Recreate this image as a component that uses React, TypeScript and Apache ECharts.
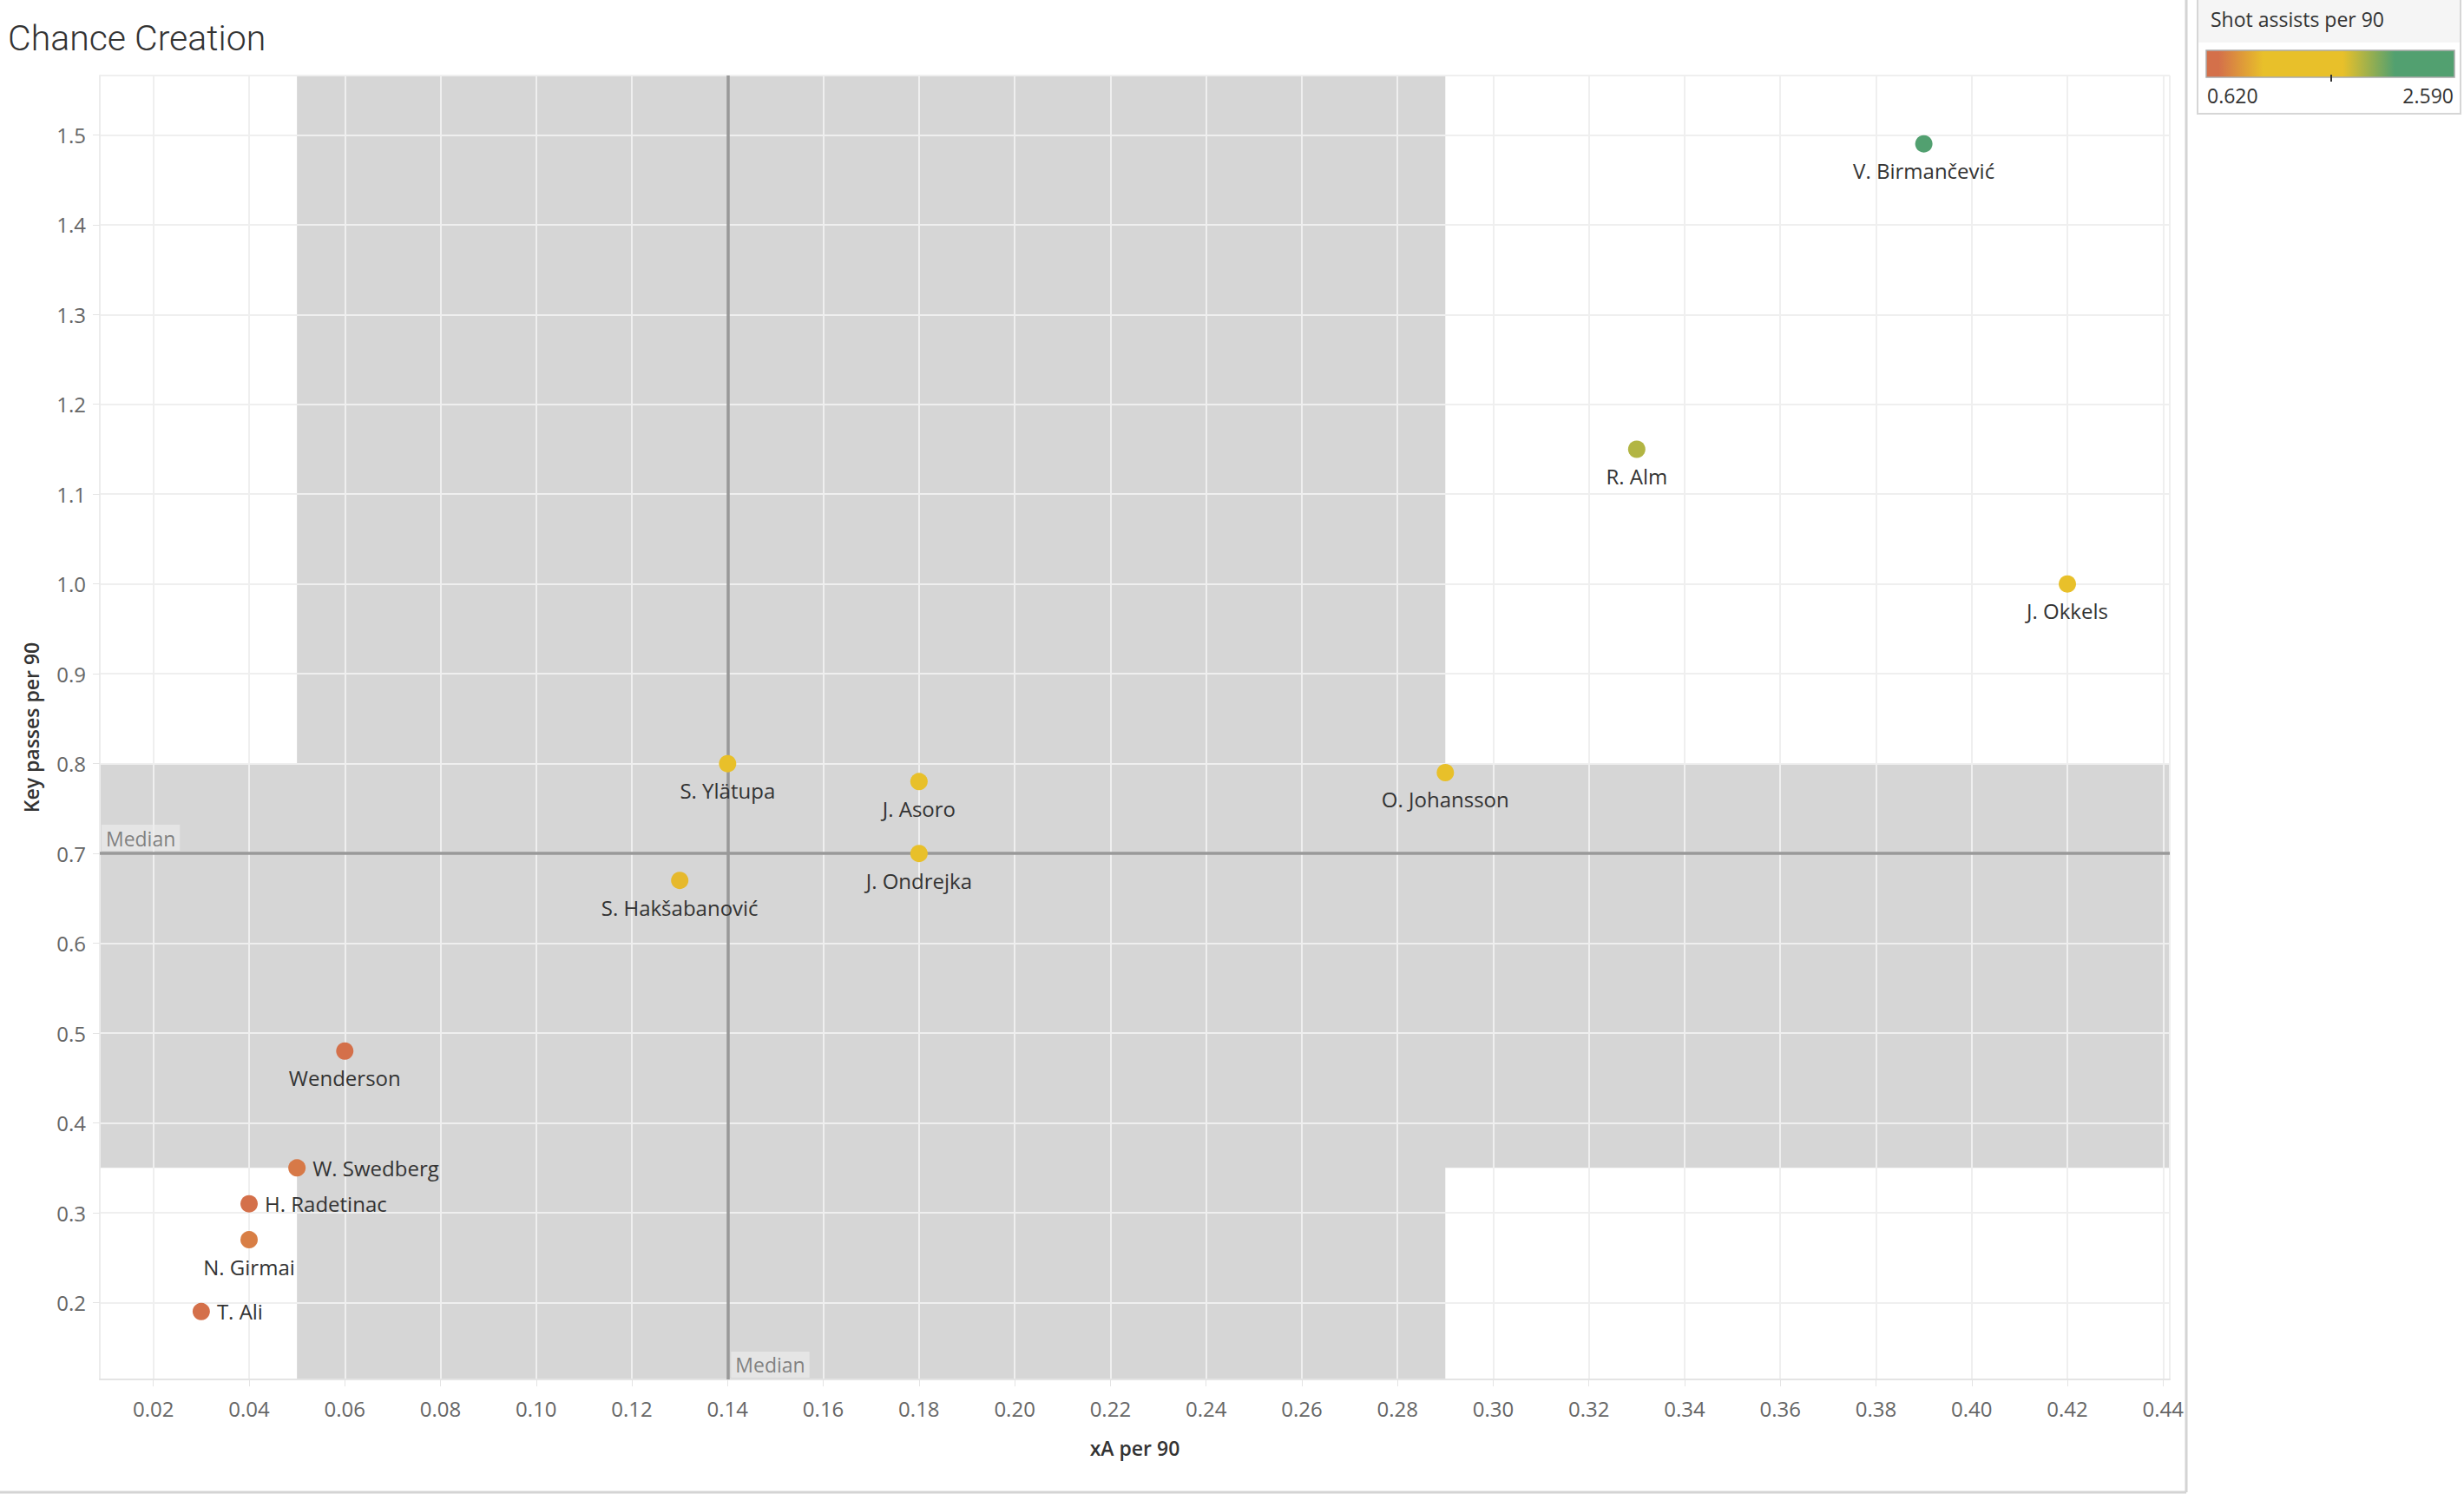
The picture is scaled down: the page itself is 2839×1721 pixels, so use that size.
import React, { useEffect, useRef } from "react";
import * as echarts from "echarts";

// ---- data ----
const players = [
  "V. Birmančević", "R. Alm", "J. Okkels", "O. Johansson", "S. Ylätupa", "J. Asoro",
  "J. Ondrejka", "S. Hakšabanović", "Wenderson", "W. Swedberg", "H. Radetinac", "N. Girmai", "T. Ali",
];
const xAPer90 = [0.39, 0.33, 0.42, 0.29, 0.14, 0.18, 0.18, 0.13, 0.06, 0.05, 0.04, 0.04, 0.03];
const keyPassesPer90 = [1.49, 1.15, 1.0, 0.79, 0.8, 0.78, 0.7, 0.67, 0.48, 0.35, 0.31, 0.27, 0.19];
const shotAssistsPer90 = [2.59, 1.85, 1.55, 1.45, 1.3, 1.4, 1.25, 1.04, 0.66, 0.76, 0.62, 0.78, 0.64];
const rightLabelled = ["W. Swedberg", "H. Radetinac", "T. Ali"];

const xMedian = 0.14;
const yMedian = 0.7;
const xBand = [0.05, 0.29];
const yBand = [0.35, 0.8];
const colorMin = 0.62;
const colorMax = 2.59;
const colorLabels = ["0.620", "2.590"];

const X_MIN = 0.0088, X_MAX = 0.4414, Y_MIN = 0.1145, Y_MAX = 1.566;

const SCALE_STOPS: [number, string][] = [
  [0, "#d4704a"], [0.05, "#d4704a"], [0.23, "#e8c02a"], [0.55, "#e8c02a"], [0.76, "#52a070"], [1, "#52a070"],
];

function hex(c: string) {
  return [1, 3, 5].map((i) => parseInt(c.slice(i, i + 2), 16));
}
function sample(t: number) {
  for (let i = 0; i < SCALE_STOPS.length - 1; i++) {
    const [t0, c0] = SCALE_STOPS[i];
    const [t1, c1] = SCALE_STOPS[i + 1];
    if (t >= t0 && t <= t1) {
      const f = t1 === t0 ? 0 : (t - t0) / (t1 - t0);
      const a = hex(c0), b = hex(c1);
      const m = a.map((v, k) => Math.round(v + (b[k] - v) * f));
      return `rgb(${m[0]},${m[1]},${m[2]})`;
    }
  }
  return SCALE_STOPS[SCALE_STOPS.length - 1][1];
}
const vmColors = Array.from({ length: 41 }, (_, i) => sample(i / 40));

const FONT = "Open Sans";

export default function App() {
  const ref = useRef<HTMLDivElement>(null);
  useEffect(() => {
    document.body.style.margin = "0";
    document.body.style.overflow = "hidden";
    const chart = echarts.init(ref.current!, null, { renderer: "svg" });
    const data = players.map((n, i) => ({
      value: [xAPer90[i], keyPassesPer90[i], shotAssistsPer90[i]],
      name: n,
      label: rightLabelled.includes(n)
        ? { position: "right", distance: 8 }
        : { position: "bottom", distance: 9 },
    }));
    const medianLabel = {
      show: true,
      formatter: "Median",
      color: "#666",
      fontSize: 23,
      fontFamily: FONT,
      backgroundColor: "rgba(236,236,236,0.85)",
      padding: [4, 5, 3, 5],
      align: "left",
      verticalAlign: "bottom",
    };
    const option: any = {
      animation: false,
      backgroundColor: "#ffffff",
      textStyle: { fontFamily: FONT },
      title: {
        text: "Chance Creation",
        left: 4,
        top: 18,
        textStyle: { fontFamily: "Roboto", fontWeight: 300, fontSize: 41, color: "#333" },
      },
      grid: { left: 115, right: 339, top: 87, bottom: 132, containLabel: false, outerBoundsMode: "none" },
      xAxis: {
        type: "value",
        min: X_MIN,
        max: X_MAX,
        splitNumber: 21,
        z: 2,
        name: "xA per 90",
        nameLocation: "middle",
        nameGap: 67,
        nameTextStyle: { fontSize: 23, fontWeight: 600, color: "#333", fontFamily: FONT },
        axisLine: { show: true, lineStyle: { color: "#e4e4e4", width: 2 } },
        axisTick: { show: true, length: 8, lineStyle: { color: "#e4e4e4" } },
        axisLabel: {
          interval: 0,
          showMinLabel: false,
          showMaxLabel: false,
          margin: 21,
          fontSize: 24,
          color: "#666",
          fontFamily: FONT,
          formatter: (v: number) => v.toFixed(2),
        },
        splitLine: { show: true, lineStyle: { color: "#efefef", width: 2 } },
      },
      yAxis: {
        type: "value",
        min: Y_MIN,
        max: Y_MAX,
        splitNumber: 14,
        z: 2,
        name: "Key passes per 90",
        nameLocation: "middle",
        nameGap: 68,
        nameRotate: 90,
        nameTextStyle: { fontSize: 23, fontWeight: 600, color: "#333", fontFamily: FONT },
        axisLine: { show: true, lineStyle: { color: "#ececec", width: 2 } },
        axisTick: { show: true, length: 8, lineStyle: { color: "#e4e4e4" } },
        axisLabel: {
          interval: 0,
          showMinLabel: false,
          showMaxLabel: false,
          margin: 16,
          fontSize: 24,
          color: "#666",
          fontFamily: FONT,
          formatter: (v: number) => v.toFixed(1),
        },
        splitLine: { show: true, lineStyle: { color: "#efefef", width: 2 } },
      },
      visualMap: {
        type: "continuous",
        show: false,
        min: colorMin,
        max: colorMax,
        dimension: 2,
        seriesIndex: 0,
        inRange: { color: vmColors },
      },
      series: [
        {
          type: "scatter",
          z: 6,
          symbolSize: 20,
          data,
          label: {
            show: true,
            formatter: (p: any) => p.name,
            fontSize: 24,
            color: "#333",
            fontFamily: FONT,
          },
          itemStyle: { opacity: 1 },
        },
        {
          type: "scatter",
          data: [],
          silent: true,
          markArea: {
            silent: true,
            z: 1,
            itemStyle: { color: "#d6d6d6", opacity: 1, borderWidth: 0 },
            label: { show: false },
            data: [
              [{ xAxis: xBand[0], yAxis: Y_MIN }, { xAxis: xBand[1], yAxis: Y_MAX }],
              [{ xAxis: X_MIN, yAxis: yBand[0] }, { xAxis: X_MAX, yAxis: yBand[1] }],
            ],
          },
          markLine: {
            silent: true,
            symbol: ["none", "none"],
            label: { show: false },
            lineStyle: { color: "#999999", width: 3.5, type: "solid" },
            data: [{ xAxis: xMedian }, { yAxis: yMedian }],
          },
        },
        {
          type: "scatter",
          z: 7,
          silent: true,
          clip: false,
          symbolSize: 0.1,
          itemStyle: { color: "transparent" },
          data: [
            { value: [xMedian, Y_MIN], label: { ...medianLabel, position: [4, -2] } },
            { value: [X_MIN, yMedian], label: { ...medianLabel, position: [2, -3] } },
          ],
        },
      ],
      graphic: [
        { type: "line", shape: { x1: 2519, y1: 0, x2: 2519, y2: 1719 }, style: { stroke: "#d4d4d4", lineWidth: 3 } },
        { type: "line", shape: { x1: 0, y1: 1719, x2: 2519, y2: 1719 }, style: { stroke: "#d4d4d4", lineWidth: 3 } },
        { type: "rect", shape: { x: 2532, y: -2, width: 303, height: 133 }, style: { fill: "#fff", stroke: "#d6d6d6", lineWidth: 2 } },
        { type: "rect", shape: { x: 2533, y: 0, width: 301, height: 49 }, style: { fill: "#f5f5f5" } },
        {
          type: "text",
          x: 2547,
          y: 22,
          style: { text: "Shot assists per 90", fontSize: 23, fill: "#333", fontFamily: FONT, verticalAlign: "middle" },
        },
        {
          type: "rect",
          shape: { x: 2542, y: 58, width: 286, height: 31 },
          style: {
            fill: {
              type: "linear", x: 0, y: 0, x2: 1, y2: 0,
              colorStops: SCALE_STOPS.map(([o, c]) => ({ offset: o, color: c })),
            },
            stroke: "#aaaaaa",
            lineWidth: 1.5,
          },
        },
        { type: "line", shape: { x1: 2686, y1: 86, x2: 2686, y2: 94 }, style: { stroke: "#333", lineWidth: 2 } },
        {
          type: "text", x: 2543, y: 110,
          style: { text: colorLabels[0], fontSize: 23, fill: "#333", fontFamily: FONT, verticalAlign: "middle", align: "left" },
        },
        {
          type: "text", x: 2827, y: 110,
          style: { text: colorLabels[1], fontSize: 23, fill: "#333", fontFamily: FONT, verticalAlign: "middle", align: "right" },
        },
      ],
    };
    chart.setOption(option);
    return () => chart.dispose();
  }, []);
  return <div ref={ref} style={{ width: 2839, height: 1721 }} />;
}
